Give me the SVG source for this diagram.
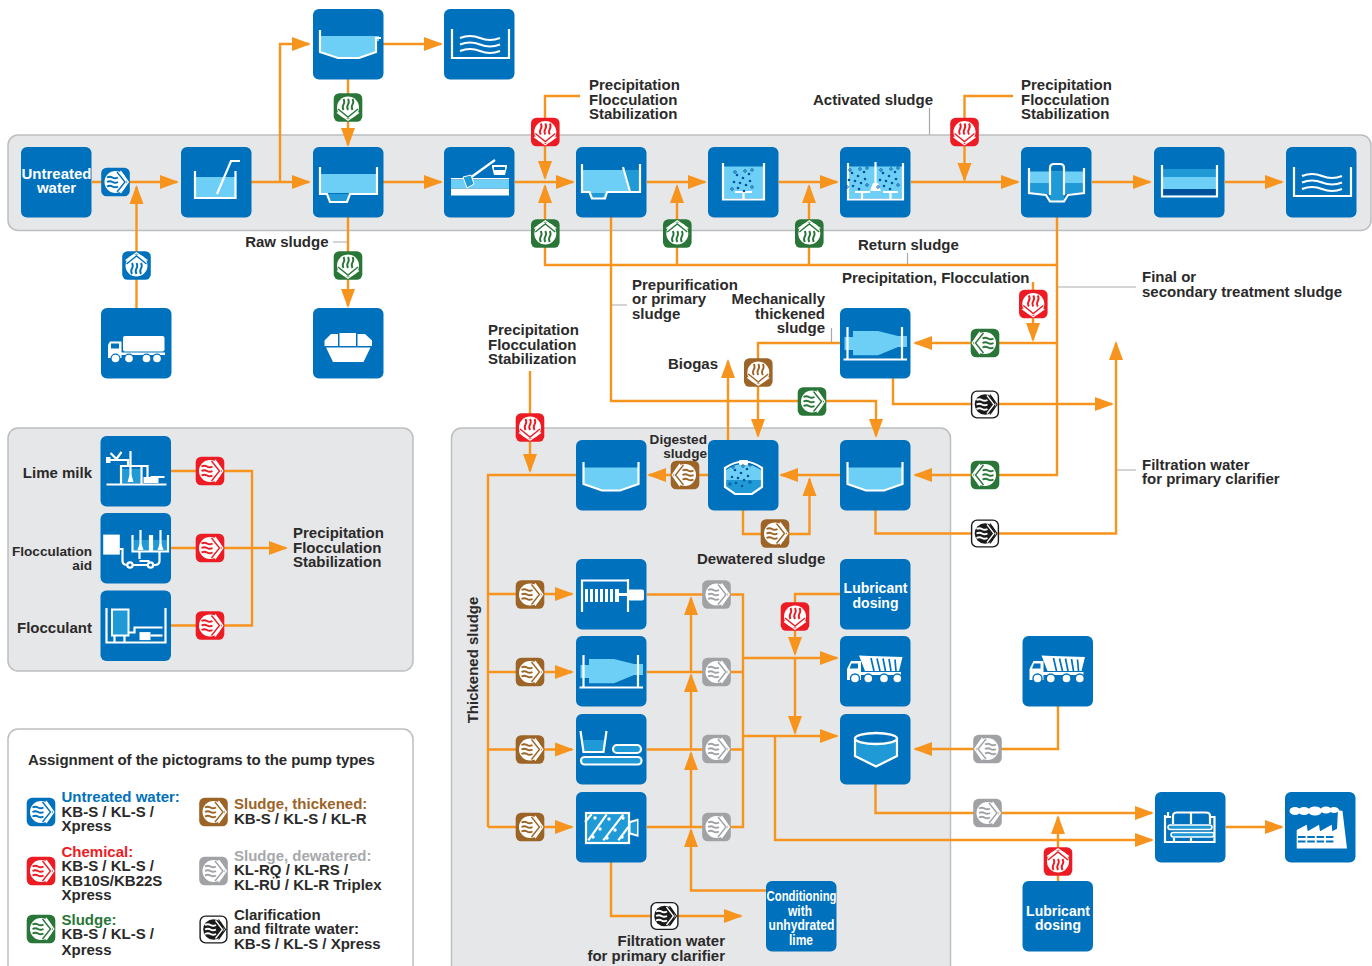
<svg xmlns="http://www.w3.org/2000/svg" width="1372" height="966" viewBox="0 0 1372 966">
<style>
text{font-family:"Liberation Sans",Arial,sans-serif;font-weight:700;font-size:15px;fill:#2b2a2a}
.e{text-anchor:end}.m{text-anchor:middle}
text.wt{fill:#fff}
text.s{font-size:13.600px}
text.d{font-size:14px}
.panel{fill:#e6e7e8;stroke:#bcbec0;stroke-width:1.500}
.b{fill:#0071bc}
.w{fill:none;stroke:#fff;stroke-width:2.200}
.wf{fill:#fff}.lb{fill:#6dcff6}.mb{fill:#1f9ad6}.db{fill:#00529c}.bb{fill:#0071bc}
.c{fill:none;stroke:#f7941e;stroke-width:2.400}
.a{marker-end:url(#arr)}
.l{fill:none;stroke:#a7a9ac;stroke-width:1.200}
.blue{color:#0071bc}.red{color:#ed1c24}.green{color:#2a7638}.brown{color:#9c6426}.grey{color:#a0a2a5}
</style>
<defs>
<marker id="arr" markerUnits="userSpaceOnUse" markerWidth="20" markerHeight="16" refX="17" refY="8" orient="auto"><path d="M0 1L19 8L0 15Z" fill="#f7941e"/></marker>
<g id="g"><path d="M-8.500 -4.500q3 -1.600 5.500 0t5.500 0M-8.500 0q3 -1.600 5.500 0t5.500 0M-8.500 4.500q3 -1.600 5.500 0t5.500 0" fill="none" stroke-width="1.900"/></g>
<g id="p"><rect x="-14.300" y="-14.300" width="28.600" height="28.600" rx="5.500" fill="currentColor"/><circle r="11" fill="#fff"/><use href="#g" stroke="currentColor"/><path d="M1.500 -10L9.500 0L1.500 10" fill="none" stroke="currentColor" stroke-width="1.400"/><path d="M5 -11L12.800 0L5 11" fill="none" stroke="#fff" stroke-width="1.300"/></g>
<g id="pk"><rect x="-13.400" y="-13.400" width="26.800" height="26.800" rx="5.500" fill="#fff" stroke="#1a1a1a" stroke-width="1.400"/><circle r="10.300" fill="#1a1a1a"/><use href="#g" stroke="#fff"/><path d="M2 -9L9 0L2 9" fill="none" stroke="#fff" stroke-width="1.300"/><path d="M5 -10L12 0L5 10" fill="none" stroke="#1a1a1a" stroke-width="1.200"/></g>
<g id="waves"><path class="w" d="M8 20V49H65V20"/><path class="w" d="M16 29q10 -4 20 0t20 0M16 35.500q10 -4 20 0t20 0M16 42q10 -4 20 0t20 0" stroke-width="2"/></g>
<g id="bowl"><path class="lb" d="M8 27.500H62V43.500L44 50H26L8 43.500Z"/><path class="w" d="M7.500 22V44L26 50.500H44L62.500 44V22"/></g>
<g id="dump"><path class="wf" d="M7 44V33L11 25H21V44Z"/><path class="bb" d="M11.500 27.500H18V32.500H9.500Z"/><path class="wf" d="M19 19.500L30 20L62.500 21L59 35H25ZM20 36H61V39H20Z"/><path d="M31 22L34 35M37 22.500L40 35M43 22.500L45.500 35M49 23L51 35M55 23.500L56 35" stroke="#0071bc" stroke-width="1.700"/><circle cx="15" cy="42.500" r="5.200" class="bb"/><circle cx="15" cy="42.500" r="3.800" class="wf"/><circle cx="28.300" cy="42.500" r="5.200" class="bb"/><circle cx="28.300" cy="42.500" r="3.800" class="wf"/><circle cx="44" cy="42.500" r="5.200" class="bb"/><circle cx="44" cy="42.500" r="3.800" class="wf"/><circle cx="57.300" cy="42.500" r="5.200" class="bb"/><circle cx="57.300" cy="42.500" r="3.800" class="wf"/></g>
<g id="drum"><path class="lb" d="M4.500 29H13V23H38L58 28H67V39H58L38 47.300H13V42H4.500Z"/><path class="w" d="M7.500 19V51M62 19V51M3.500 51.500H67"/></g>
<g id="bub"><g class="db"><circle cx="0" cy="0" r="1.300"/><circle cx="6" cy="3" r="1.300"/><circle cx="3" cy="8" r="1.300"/><circle cx="9" cy="10" r="1.300"/><circle cx="-3" cy="7" r="1.300"/><circle cx="12" cy="-1" r="1.300"/><circle cx="1" cy="13" r="1.300"/><circle cx="7" cy="16" r="1.300"/><circle cx="13" cy="6" r="1.300"/></g><g fill="none" stroke="#00529c" stroke-width=".8"><circle cx="-2" cy="-3" r="1.300"/><circle cx="8" cy="-4" r="1.300"/><circle cx="15" cy="-5" r="1.300"/><circle cx="-5" cy="14" r="1.300"/><circle cx="15" cy="12" r="1.300"/></g></g>
</defs>

<g id="panels">
<rect class="panel" x="8" y="135" width="1363" height="95.500" rx="10"/>
<rect class="panel" x="8" y="428" width="405" height="243" rx="10"/>
<rect x="8" y="729" width="405" height="250" rx="10" fill="#fff" stroke="#bcbec0" stroke-width="1.500"/>
<rect class="panel" x="451.500" y="428" width="499" height="552" rx="10"/>
</g>

<g id="connectors">
<path class="l" d="M333 242H348M611 305H627M1057 287H1136M929.500 108V134.500M907.500 253V265M831.500 328V343M1116 470H1136"/>
<path class="c a" d="M92 182H177"/>
<path class="c a" d="M136.500 308V187"/>
<path class="c a" d="M251 182H309"/>
<path class="c a" d="M280 182V44H309"/>
<path class="c a" d="M383 44H441"/>
<path class="c a" d="M348 79V145"/>
<path class="c a" d="M383 182H441"/>
<path class="c a" d="M348 217V306"/>
<path class="c a" d="M515 182H573"/>
<path class="c a" d="M580 96H545V178"/>
<path class="c a" d="M1057 265H545V186"/>
<path class="c a" d="M677 265V186"/>
<path class="c a" d="M809 265V186"/>
<path class="c a" d="M647 182H705"/>
<path class="c a" d="M779 182H837"/>
<path class="c a" d="M911 182H1018"/>
<path class="c a" d="M1013 96H964.500V180"/>
<path class="c a" d="M1092 182H1150"/>
<path class="c a" d="M1225 182H1282"/>
<path class="c a" d="M1057 217V475H915"/>
<path class="c a" d="M1057 343H915"/>
<path class="c a" d="M1033 282V340"/>
<path class="c a" d="M893 378V404H1112"/>
<path class="c a" d="M875.500 510V533.500H1116V343"/>
<path class="c a" d="M611 217V401H876V436"/>
<path class="c a" d="M840 343H758V436"/>
<path class="c a" d="M728 440V361"/>
<path class="c a" d="M530 371V471"/>
<path class="c" d="M576 475H488V827"/>
<path class="c a" d="M488 594H572"/>
<path class="c a" d="M488 672H572"/>
<path class="c a" d="M488 749.500H572"/>
<path class="c a" d="M488 827H572"/>
<path class="c a" d="M708 475H649"/>
<path class="c a" d="M840 475H781"/>
<path class="c a" d="M743 510V534H809.500V479"/>
<path class="c" d="M647 594.500H743V827H647M647 672H743M647 749.500H743"/>
<path class="c a" d="M766 890.500H691V830"/>
<path class="c a" d="M691 827V753"/>
<path class="c a" d="M691 749.500V675"/>
<path class="c a" d="M691 672V598"/>
<path class="c a" d="M743 658H837"/>
<path class="c a" d="M743 736H837"/>
<path class="c a" d="M840 594H795V654"/>
<path class="c a" d="M795 658V733"/>
<path class="c a" d="M775 736V840H1152"/>
<path class="c a" d="M875.500 784V813H1152"/>
<path class="c a" d="M1058 706V749H915"/>
<path class="c a" d="M1058 881V817"/>
<path class="c a" d="M1226 827H1282"/>
<path class="c a" d="M611 862V916H741"/>
<path class="c" d="M171 471H252V625.500H171"/>
<path class="c a" d="M171 548H286"/>
</g>

<g id="n-untreated"><rect class="b" x="21" y="147" width="70.500" height="70.500" rx="6"/><text class="m wt" x="56.500" y="179">Untreated</text><text class="m wt" x="56.500" y="193">water</text></g>
<g id="n-screen" transform="translate(181,147)"><rect class="b" width="70.500" height="70.500" rx="6"/><rect class="lb" x="14" y="30" width="40" height="20"/><path class="w" d="M14 24V51H54.500V24"/><path class="w" d="M36 47L50 14H59" stroke-width="2.500"/></g>
<g id="n-clar-top" transform="translate(313,9)"><rect class="b" width="70.500" height="70.500" rx="6"/><path class="lb" d="M8 27H66V32H63V43L46 49H25L8 43Z"/><path class="w" d="M7 21V43L25 49H46L63 43V29H68"/></g>
<g id="n-water-top" transform="translate(444,9)"><rect class="b" width="70.500" height="70.500" rx="6"/><use href="#waves"/></g>
<g id="n-sedim" transform="translate(313,147)"><rect class="b" width="70.500" height="70.500" rx="6"/><path class="lb" d="M8 27H63V46H8Z"/><path class="mb" d="M14 47H37L34 55H17Z"/><path class="w" d="M7 20V47H14L17 55H34L37 47H64V20"/></g>
<g id="n-sand" transform="translate(444,147)"><rect class="b" width="70.500" height="70.500" rx="6"/><rect class="lb" x="7" y="33" width="58" height="8"/><rect class="wf" x="7" y="41.500" width="58" height="7"/><rect class="wf" x="7" y="31" width="58" height="1.500"/><path class="w" d="M26 31L51 13"/><path d="M19 30l8 -2l3 9l-7 4Z" fill="#1f9ad6" stroke="#fff" stroke-width="1"/><path class="wf" d="M48 18H63V20L61 28H50L48 20Z"/><rect class="bb" x="50" y="20" width="11" height="3"/></g>
<g id="n-primary" transform="translate(576,147)"><rect class="b" width="70.500" height="70.500" rx="6"/><path class="lb" d="M7 23H47L53 45H30L28 51H15L12 45H7Z"/><path class="mb" d="M49 23H63V44H54ZM13 46H29L27 51H15Z"/><path class="w" d="M6 17V45H13.500L16 51.500H29L31 45H64V17M47 20L54 45" stroke-width="2.200"/></g>
<g id="n-aer1" transform="translate(708,147)"><rect class="b" width="70.500" height="70.500" rx="6"/><rect class="lb" x="15" y="19.500" width="41" height="32"/><path class="w" d="M15 16V52.500H56V16M27 45H44M35.500 45V52"/><use href="#bub" x="29" y="28"/></g>
<g id="n-aer2" transform="translate(840,147)"><rect class="b" width="70.500" height="70.500" rx="6"/><rect class="lb" x="8" y="19.500" width="55" height="32"/><path class="w" d="M8 16V52.500H63V16M15 45H30M22 45V52M43 45H58M50.500 45V52"/><path class="w" d="M35.500 15V36"/><path class="wf" d="M33 36H38L41 44H30Z"/><use href="#bub" x="12" y="26"/><use href="#bub" x="43" y="26"/></g>
<g id="n-final" transform="translate(1021,147)"><rect class="b" width="70.500" height="70.500" rx="6"/><rect class="lb" x="8" y="24.500" width="55" height="11.500"/><path class="mb" d="M8 36H63V45L44 47L42 54H30L28 47L8 45Z"/><rect class="mb" x="29" y="24.500" width="14" height="30"/><path class="w" d="M8 21V46L25 48L29 54.500H43L47 48L63 46V21M29 48V21Q29 17 33 17H39Q43 17 43 21V48"/></g>
<g id="n-outlet" transform="translate(1154,147)"><rect class="b" width="70.500" height="70.500" rx="6"/><rect class="mb" x="8" y="22" width="55" height="8"/><rect class="lb" x="8" y="30" width="55" height="12"/><rect class="db" x="8" y="42" width="55" height="6"/><path class="w" d="M8 18V49.500H63V18" stroke-width="2.600"/></g>
<g id="n-water-end" transform="translate(1286,147)"><rect class="b" width="70.500" height="70.500" rx="6"/><use href="#waves"/></g>
<g id="n-tanker" transform="translate(101,308)"><rect class="b" width="70.500" height="70.500" rx="6"/><rect class="wf" x="22" y="28" width="41.500" height="15.500" rx="2"/><path class="wf" d="M7 50V37L9 33.500H20.500V50Z"/><rect class="bb" x="10" y="35.500" width="8" height="5"/><rect class="wf" x="20" y="44.500" width="44" height="2.500"/><circle class="bb" cx="14.500" cy="50.500" r="5"/><circle class="wf" cx="14.500" cy="50.500" r="3.800"/><circle class="bb" cx="28" cy="50.500" r="5"/><circle class="wf" cx="28" cy="50.500" r="3.800"/><circle class="bb" cx="45.500" cy="50.500" r="5"/><circle class="wf" cx="45.500" cy="50.500" r="3.800"/><circle class="bb" cx="56" cy="50.500" r="5"/><circle class="wf" cx="56" cy="50.500" r="3.800"/></g>
<g id="n-skip" transform="translate(313,308)"><rect class="b" width="70.500" height="70.500" rx="6"/><path class="wf" d="M11.500 32.500L18 26H25V38H11.500ZM26.500 25H43V38H26.500ZM44.500 26H52L59 32.500V38H44.500ZM13 39.500H57.500L50.500 54H20Z"/></g>
<g id="n-thick1" transform="translate(840,308)"><rect class="b" width="70.500" height="70.500" rx="6"/><use href="#drum"/></g>

<g id="n-lime" transform="translate(100.500,436)"><rect class="b" width="70.500" height="70.500" rx="6"/><rect class="mb" x="21" y="33" width="19" height="14"/><path class="w" d="M6 48.500H66M20.500 48V30H41V48M6 24H27.500V31M30 15V40M10 17L16 23L21 16M41 30H47V41M50 41H64" stroke-width="1.900"/><path class="wf" d="M29 39H31L33 46H27ZM43 41H58V47H43ZM5.500 21H10V27H5.500Z"/></g>
<g id="n-flocaid" transform="translate(100.500,513)"><rect class="b" width="70.500" height="70.500" rx="6"/><rect class="wf" x="2.700" y="21.600" width="16.600" height="20"/><path class="mb" d="M33 27H49V38H33ZM52 27H67V38H52Z"/><path class="w" d="M32 22V38.500H49.500V22M51.500 22V38.500H67.500V22M19 36H22V48Q22 52 27 52H33M39 38V46M49 48H39M59 38V48Q59 52 54 52H51M33 52H47" stroke-width="1.900"/><path class="w" d="M40 17V33M60 17V33" stroke-width="1.500"/><path class="wf" d="M39 31H41L43 37H37ZM59 31H61L63 37H57Z"/><circle class="wf" cx="29.500" cy="52" r="3.800"/><circle class="bb" cx="29.500" cy="52" r="1.600"/><circle class="wf" cx="50" cy="52" r="3.800"/><circle class="bb" cx="50" cy="52" r="1.600"/></g>
<g id="n-floc" transform="translate(100.500,590.500)"><rect class="b" width="70.500" height="70.500" rx="6"/><rect class="mb" x="11.500" y="19" width="16.500" height="26" stroke="#fff" stroke-width="2"/><path class="w" d="M6 17.500V52H65V17.500M14 45V52M24 45V52M28 42H34V37H62" stroke-width="2"/><rect class="wf" x="39" y="41.600" width="11" height="8"/><path class="w" d="M50 45H62"/></g>
<g id="n-digest" transform="translate(708,440)"><rect class="b" width="70.500" height="70.500" rx="6"/><path class="mb" d="M18 40H53V47L44 53H27L18 47Z"/><path class="lb" d="M18 30Q35 18 53 30V40H18Z"/><path class="w" d="M17 28V47L27 54H44L54 47V28Q36 15 17 28Z"/><rect class="wf" x="31" y="20" width="9" height="5" rx="1"/><use href="#bub" x="27" y="30"/></g>
<g id="n-bowl1" transform="translate(576,440)"><rect class="b" width="70.500" height="70.500" rx="6"/><use href="#bowl"/></g>
<g id="n-bowl2" transform="translate(840,440)"><rect class="b" width="70.500" height="70.500" rx="6"/><use href="#bowl"/></g>
<g id="n-press" transform="translate(576,559)"><rect class="b" width="70.500" height="70.500" rx="6"/><path class="w" d="M6 53V21.500H52M52 20V53"/><path class="wf" d="M9 30H12V43H9ZM14 30H17V43H14ZM19 30H22V43H19ZM24 30H27V43H24ZM29 30H32V43H29ZM34 30H37V43H34ZM39 30H43V43H39Z"/><rect class="wf" x="43" y="34" width="9" height="3"/><rect class="wf" x="52" y="30.500" width="16" height="11" rx="2"/></g>
<g id="n-centrifuge" transform="translate(576,636)"><rect class="b" width="70.500" height="70.500" rx="6"/><use href="#drum"/></g>
<g id="n-belt" transform="translate(576,714)"><rect class="b" width="70.500" height="70.500" rx="6"/><path class="mb" d="M5.500 26H30L28 37H8Z"/><path class="w" d="M4.500 17L7.500 38H27.500L30.500 17"/><rect x="37" y="31" width="28" height="8" rx="4" fill="#1f9ad6" stroke="#fff" stroke-width="2.200"/><rect x="5" y="43" width="60.500" height="7.500" rx="3.700" fill="#1f9ad6" stroke="#fff" stroke-width="2.200"/></g>
<g id="n-chamber" transform="translate(576,792)"><rect class="b" width="70.500" height="70.500" rx="6"/><path class="wf" d="M54 29L62.500 26.500V45L54 42.500Z"/><path class="mb" d="M54.500 31L61 29V42.500L54.500 40.500Z"/><rect x="10" y="21" width="43" height="30" fill="#1f9ad6" stroke="#fff" stroke-width="2.200"/><path class="w" d="M12.300 48.300L30.700 22.300M27.300 48.300L47.300 22.300M9 30L15.700 22.300M42.300 48.300L52.300 35" stroke-width="3"/><g class="wf"><circle cx="19" cy="26" r="1.700"/><circle cx="33" cy="27" r="1.700"/><circle cx="47" cy="26" r="1.700"/><circle cx="24" cy="37" r="1.700"/><circle cx="39" cy="38" r="1.700"/><circle cx="17" cy="45" r="1.700"/><circle cx="31" cy="46" r="1.700"/><circle cx="46" cy="45" r="1.700"/></g></g>
<g id="n-lube1"><rect class="b" x="840" y="559" width="70.500" height="70.500" rx="6"/><text class="m wt d" x="875.500" y="593">Lubricant</text><text class="m wt d" x="875.500" y="608">dosing</text></g>
<g id="n-dump1" transform="translate(840,636)"><rect class="b" width="70.500" height="70.500" rx="6"/><use href="#dump"/></g>
<g id="n-silo" transform="translate(840,714)"><rect class="b" width="70.500" height="70.500" rx="6"/><path class="mb" d="M15 24.500H57V42L36 52L15 42Z"/><path class="w" d="M15 24.500V42L36 52.500L57 42V24.500" stroke-width="2.400"/><ellipse cx="36" cy="24.500" rx="21" ry="5.500" fill="#0071bc" stroke="#fff" stroke-width="2.400"/></g>
<g id="n-cond"><rect class="b" x="766" y="881" width="70.500" height="70.500" rx="6"/><text class="m wt" x="801.500" y="901" textLength="70" lengthAdjust="spacingAndGlyphs">Conditioning</text><text class="m wt" x="800" y="916" textLength="24" lengthAdjust="spacingAndGlyphs">with</text><text class="m wt" x="801.500" y="930" textLength="66" lengthAdjust="spacingAndGlyphs">unhydrated</text><text class="m wt" x="801" y="945" textLength="24" lengthAdjust="spacingAndGlyphs">lime</text></g>
<g id="n-dump2" transform="translate(1022.500,636)"><rect class="b" width="70.500" height="70.500" rx="6"/><use href="#dump"/></g>
<g id="n-lube2"><rect class="b" x="1022.500" y="881" width="70.500" height="70.500" rx="6"/><text class="m wt d" x="1058" y="916">Lubricant</text><text class="m wt d" x="1058" y="930">dosing</text></g>
<g id="n-dryer" transform="translate(1155,792)"><rect class="b" width="70.500" height="70.500" rx="6"/><path class="w" d="M10 23V50H59.500V25H55M10 25H16M13 20V25M18 32V24Q18 20.500 22 20.500H51Q55 20.500 55 24V32M36 20.500V32M19 46V50M36 46V50" stroke-width="1.900"/><rect x="13" y="33" width="44" height="4.500" rx="2.200" fill="#1f9ad6" stroke="#fff" stroke-width="1.600"/><rect x="16" y="40.500" width="43" height="4.500" rx="2.200" fill="#1f9ad6" stroke="#fff" stroke-width="1.600"/></g>
<g id="n-factory" transform="translate(1285,792)"><rect class="b" width="70.500" height="70.500" rx="6"/><g class="wf"><ellipse cx="10" cy="19" rx="5.500" ry="4"/><ellipse cx="19" cy="19" rx="6" ry="4"/><ellipse cx="30" cy="19" rx="7" ry="4.500"/><ellipse cx="41" cy="18" rx="5.500" ry="3.500"/><ellipse cx="49" cy="18" rx="5" ry="3"/></g><path class="wf" d="M53 18L57.500 19L62 56.500H11.700V38L21.700 32.700L22.700 39.300L34 32.700L35 39.300L46.700 32.700L47.300 39.300L52 36.700Z"/><path d="M13 45H50M13 49.500H50" stroke="#0071bc" stroke-width="1.800" stroke-dasharray="7.500 1.800"/></g>

<g id="pumps">
<use id="p1" href="#p" class="blue" transform="translate(115.500,182)"/>
<use id="p2" href="#p" class="blue" transform="translate(136.500,265.500) rotate(-90)"/>
<use id="p3" href="#p" class="green" transform="translate(348,107.500) rotate(90)"/>
<use id="p4" href="#p" class="green" transform="translate(348,265.500) rotate(90)"/>
<use id="p5" href="#p" class="red" transform="translate(545.300,132) rotate(90)"/>
<use id="p6" href="#p" class="green" transform="translate(545.300,233.500) rotate(-90)"/>
<use id="p7" href="#p" class="green" transform="translate(677.300,233.500) rotate(-90)"/>
<use id="p8" href="#p" class="green" transform="translate(809.300,233.500) rotate(-90)"/>
<use id="p9" href="#p" class="red" transform="translate(964.500,132) rotate(90)"/>
<use id="p10" href="#p" class="red" transform="translate(1033.300,304) rotate(90)"/>
<use id="p11" href="#p" class="green" transform="translate(985,343) rotate(180)"/>
<use id="p12" href="#pk" transform="translate(985,404.500)"/>
<use id="p13" href="#p" class="green" transform="translate(812,401.500)"/>
<use id="p14" href="#p" class="brown" transform="translate(758.300,372.500) rotate(90)"/>
<use id="p15" href="#p" class="red" transform="translate(530,427.500) rotate(90)"/>
<use id="p16" href="#p" class="brown" transform="translate(685,475) rotate(180)"/>
<use id="p17" href="#p" class="brown" transform="translate(775,533.500)"/>
<use id="p18" href="#p" class="green" transform="translate(985,475) rotate(180)"/>
<use id="p19" href="#pk" transform="translate(985,533.500)"/>
<use id="p20" href="#p" class="brown" transform="translate(530,594.500)"/>
<use id="p21" href="#p" class="brown" transform="translate(530,672)"/>
<use id="p22" href="#p" class="brown" transform="translate(530,749.500)"/>
<use id="p23" href="#p" class="brown" transform="translate(530,827)"/>
<use id="p24" href="#p" class="grey" transform="translate(716.500,594.500)"/>
<use id="p25" href="#p" class="grey" transform="translate(716.500,672)"/>
<use id="p26" href="#p" class="grey" transform="translate(716.500,749)"/>
<use id="p27" href="#p" class="grey" transform="translate(716.500,827)"/>
<use id="p28" href="#p" class="red" transform="translate(795,616.500) rotate(90)"/>
<use id="p29" href="#p" class="grey" transform="translate(987.500,749) rotate(180)"/>
<use id="p30" href="#p" class="grey" transform="translate(987.500,813)"/>
<use id="p31" href="#pk" transform="translate(664.500,916)"/>
<use id="p32" href="#p" class="red" transform="translate(1058,861.500) rotate(-90)"/>
<use id="p33" href="#p" class="red" transform="translate(210,471)"/>
<use id="p34" href="#p" class="red" transform="translate(210,548)"/>
<use id="p35" href="#p" class="red" transform="translate(210,625.500)"/>
</g>

<g id="labels">
<text class="e" x="328.500" y="247">Raw sludge</text>
<text x="589" y="90">Precipitation</text><text x="589" y="105">Flocculation</text><text x="589" y="119">Stabilization</text>
<text x="813" y="105">Activated sludge</text>
<text x="1021" y="90">Precipitation</text><text x="1021" y="105">Flocculation</text><text x="1021" y="119">Stabilization</text>
<text x="858" y="250">Return sludge</text>
<text x="842" y="283">Precipitation, Flocculation</text>
<text x="632" y="290">Prepurification</text><text x="632" y="304">or primary</text><text x="632" y="319">sludge</text>
<text class="e" x="825" y="304">Mechanically</text><text class="e" x="825" y="318.500">thickened</text><text class="e" x="825" y="333">sludge</text>
<text x="1142" y="282">Final or</text><text x="1142" y="297">secondary treatment sludge</text>
<text x="668" y="369">Biogas</text>
<text x="488" y="335">Precipitation</text><text x="488" y="350">Flocculation</text><text x="488" y="364">Stabilization</text>
<text class="e s" x="707" y="444">Digested</text><text class="e s" x="707" y="458">sludge</text>
<text x="697" y="564">Dewatered sludge</text>
<text x="1142" y="470">Filtration water</text><text x="1142" y="484">for primary clarifier</text>
<text class="e" x="725" y="946">Filtration water</text><text class="e" x="725" y="961">for primary clarifier</text>
<text class="m" transform="translate(477.500,660) rotate(-90)">Thickened sludge</text>
<text class="e" x="92" y="478">Lime milk</text>
<text class="e s" x="92" y="556">Flocculation</text><text class="e s" x="92" y="570">aid</text>
<text class="e" x="92" y="633">Flocculant</text>
<text x="293" y="538">Precipitation</text><text x="293" y="553">Flocculation</text><text x="293" y="567">Stabilization</text>
</g>

<g id="legend">
<text x="28" y="765" style="letter-spacing:-.05px">Assignment of the pictograms to the pump types</text>
<use href="#p" class="blue" transform="translate(41,812)"/>
<text x="61.500" y="802" style="fill:#0071bc">Untreated water:</text><text x="61.500" y="817">KB-S / KL-S /</text><text x="61.500" y="831">Xpress</text>
<use href="#p" class="red" transform="translate(41,871)"/>
<text x="61.500" y="857" style="fill:#ed1c24">Chemical:</text><text x="61.500" y="871">KB-S / KL-S /</text><text x="61.500" y="886">KB10S/KB22S</text><text x="61.500" y="900">Xpress</text>
<use href="#p" class="green" transform="translate(41,929)"/>
<text x="61.500" y="925" style="fill:#2a7638">Sludge:</text><text x="61.500" y="939">KB-S / KL-S /</text><text x="61.500" y="955">Xpress</text>
<use href="#p" class="brown" transform="translate(213.500,812)"/>
<text x="234" y="809" style="fill:#9c6426">Sludge, thickened:</text><text x="234" y="824">KB-S / KL-S / KL-R</text>
<use href="#p" class="grey" transform="translate(213.500,871)"/>
<text x="234" y="861" style="fill:#a7a9ac">Sludge, dewatered:</text><text x="234" y="875">KL-RQ / KL-RS /</text><text x="234" y="890">KL-RÜ / KL-R Triplex</text>
<use href="#pk" transform="translate(213.500,929.500)"/>
<text x="234" y="920">Clarification</text><text x="234" y="934">and filtrate water:</text><text x="234" y="949">KB-S / KL-S / Xpress</text>
</g>
</svg>
